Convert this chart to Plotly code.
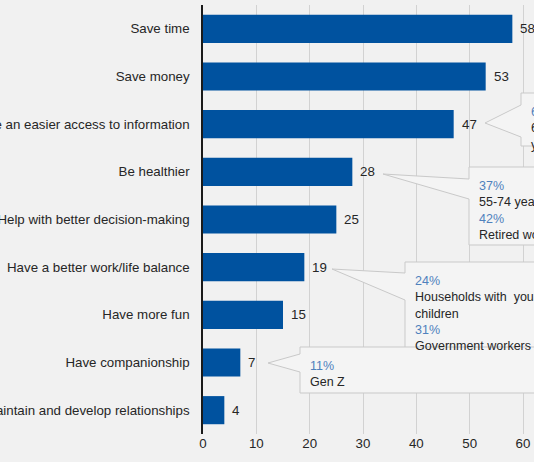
import plotly.graph_objects as go

# survey answers, top to bottom
reasons = [
    "Save time",
    "Save money",
    "Have an easier access to information",
    "Be healthier",
    "Help with better decision-making",
    "Have a better work/life balance",
    "Have more fun",
    "Have companionship",
    "Maintain and develop relationships",
]
shares = [58, 53, 47, 28, 25, 19, 15, 7, 4]
x_ticks = [0, 10, 20, 30, 40, 50, 60]

# callout texts (percent in blue, group in black)
callout_47 = [("61%", "65 years and"), (None, "younger")]
callout_28 = [("37%", "55-74 years old"), ("42%", "Retired workers")]
callout_19 = [("24%", "Households with  young<br>children"), ("31%", "Government workers")]
callout_7 = [("11%", "Gen Z")]

BG = "#f1f1f1"
BAR = "#00529f"
PCT = "#4f81bd"
TXT = "#262626"
FONT = "Liberation Sans, Arial, sans-serif"

W, H = 534, 462
L, R, T, B = 203, 0, 5, 28
PW, PH = W - L - R, H - T - B


# window pixel -> paper fraction
def px(x):
    return (x - L) / PW


def py(y):
    return (H - B - y) / PH


fig = go.Figure(go.Bar(
    x=shares, y=reasons, orientation="h",
    marker=dict(color=BAR, line=dict(width=0)),
    width=0.59,
))

# value labels next to bars
for r, v in zip(reasons, shares):
    fig.add_annotation(x=v, y=r, xref="x", yref="y", text=str(v), showarrow=False,
                       xanchor="left", xshift=6, font=dict(size=13.3, color=TXT, family=FONT))


def callout(left, top, bottom, base_top, base_bottom, tip, lines):
    x0, x1 = px(left), px(700)
    y0, y1 = py(top), py(bottom)
    path = (f"M {x0},{y0} L {x1},{y0} L {x1},{y1} L {x0},{y1} "
            f"L {x0},{py(base_bottom)} L {px(tip[0])},{py(tip[1])} L {x0},{py(base_top)} Z")
    fig.add_shape(type="path", path=path, xref="paper", yref="paper",
                  fillcolor="#f4f4f4", line=dict(color="#c9c9c9", width=1), layer="above")
    parts = []
    for pct, grp in lines:
        if pct:
            parts.append(f"<span style='color:{PCT}'>{pct}</span>")
        parts.append(grp)
    fig.add_annotation(x=px(left + 8), y=py(top + 10), xref="paper", yref="paper",
                       text="<br>".join(parts), showarrow=False, align="left",
                       xanchor="left", yanchor="top",
                       font=dict(size=12.5, color=TXT, family=FONT))


callout(521, 93, 146, 105, 137, (485, 123), callout_47)
callout(469, 167, 245, 179, 199, (383, 174), callout_28)
callout(405, 262, 361, 273, 300, (332, 269), callout_19)
callout(300, 347, 393, 354, 372, (268, 363), callout_7)

fig.update_layout(
    width=W, height=H,
    margin=dict(l=L, r=R, t=T, b=B),
    paper_bgcolor=BG, plot_bgcolor=BG,
    showlegend=False,
    font=dict(family=FONT, size=13, color=TXT),
    xaxis=dict(range=[0, 62.06], tickvals=x_ticks, showgrid=True, gridcolor="#d2d2d2",
               gridwidth=1, zeroline=False, showline=False, automargin=False,
               ticks="", tickfont=dict(size=13.3, color=TXT)),
    yaxis=dict(categoryorder="array", categoryarray=reasons, autorange="reversed",
               showline=True, linecolor="#1a1a1a", linewidth=1.5, showgrid=False,
               automargin=False, ticks="", ticklabelstandoff=9,
               tickfont=dict(size=13.3, color=TXT)),
)

# drop the page's default body margin so the figure fills the window
fig.write_html("out.html", config={"displayModeBar": False},
               post_script="document.body.style.margin='0';")
